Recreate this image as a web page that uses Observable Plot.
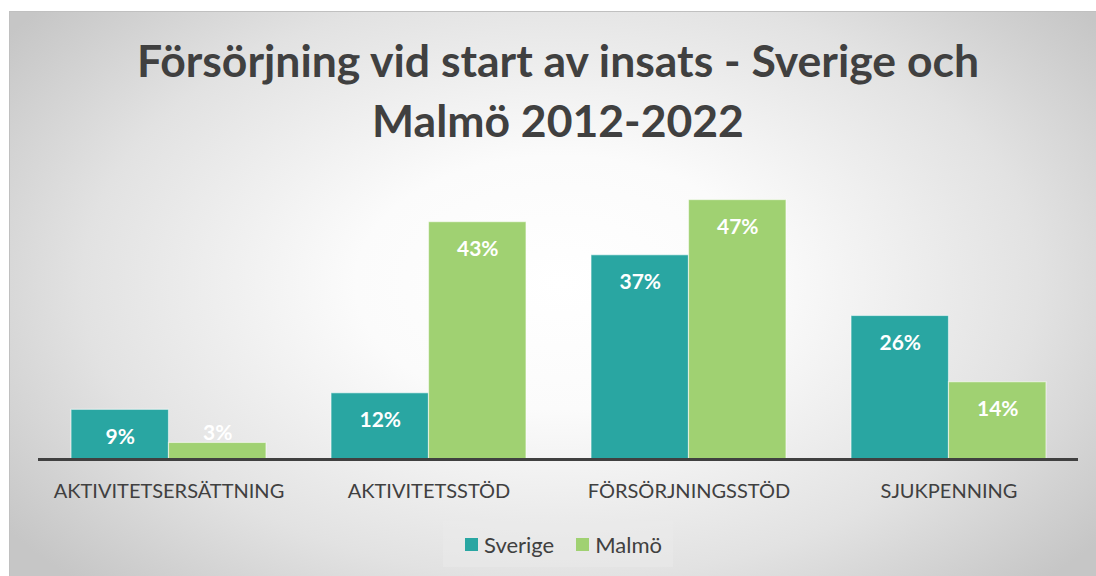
<!DOCTYPE html>
<html>
<head>
<meta charset="utf-8">
<script src="https://cdn.jsdelivr.net/npm/d3@7"></script>
<script src="https://cdn.jsdelivr.net/npm/@observablehq/plot@0.6"></script>
<style>
  html, body { margin: 0; padding: 0; background: #ffffff; }
  #wrap { position: relative; width: 1096px; height: 576px; overflow: hidden; font-family: Lato, "Open Sans", sans-serif; }
  #bg { position: absolute; left: 9px; top: 11px; width: 1100px; height: 564px;
        border: 1px solid #c0c0c0;
        background: radial-gradient(ellipse 62% 75% at 50% 48%, #ffffff 0%, #fbfbfb 30%, #e2e2e2 70%, #c6c6c6 100%); }
  #title { position: absolute; left: 20px; width: 1076px; top: 30px; text-align: center;
           font-weight: 700; font-size: 44.5px; line-height: 60px; color: #404040; }
  #chart { position: absolute; left: 0; top: 0; }
  #legend { position: absolute; left: 443px; top: 521px; width: 230px; height: 46px;
            background: rgba(235,235,235,0.45); display: flex; align-items: center;
            font-size: 22px; color: #404040; }
  .sw { display: inline-block; width: 13px; height: 13px; margin-right: 6px; }
</style>
</head>
<body>
<div id="wrap">
  <div id="bg"></div>
  <div id="title">Försörjning vid start av insats - Sverige och<br>Malmö 2012-2022</div>
  <div id="chart"></div>
  <div id="legend"></div>
</div>
<script>
const categories = ["AKTIVITETSERSÄTTNING", "AKTIVITETSSTÖD", "FÖRSÖRJNINGSSTÖD", "SJUKPENNING"];
const series = ["Sverige", "Malmö"];
const colors = ["#29a6a2", "#a0d172"];
const sverige = [9, 12, 37, 26];
const malmo = [3, 43, 47, 14];

const rowsS = categories.map((c, i) => ({cat: c, series: "Sverige", value: sverige[i]}));
const rowsM = categories.map((c, i) => ({cat: c, series: "Malmö", value: malmo[i]}));
const half = 97.5;

const chart = Plot.plot({
  width: 1096,
  height: 576,
  marginTop: 183,
  marginBottom: 117,
  marginLeft: 38,
  marginRight: 18,
  style: {background: "transparent", fontFamily: "Lato, 'Open Sans', sans-serif", overflow: "visible"},
  x: {domain: categories, paddingInner: 0.25, paddingOuter: 0.125, label: null},
  y: {domain: [0, 50], axis: null},
  color: {domain: series, range: colors},
  marks: [
    Plot.barY(rowsS, {x: "cat", y: "value", fill: "series", insetRight: half, stroke: "#ffffff", strokeOpacity: 0.55, strokeWidth: 1.2}),
    Plot.barY(rowsM, {x: "cat", y: "value", fill: "series", insetLeft: half, stroke: "#ffffff", strokeOpacity: 0.55, strokeWidth: 1.2}),
    Plot.ruleY([0], {stroke: "#404040", strokeWidth: 3}),
    Plot.axisX({tickSize: 0, tickPadding: 24, fontSize: 20, fill: "#404040", label: null}),
    Plot.text(rowsS.filter(d => d.value >= 5), {x: "cat", y: "value", text: d => d.value + "%", dx: -half / 2, dy: 27, fill: "white", fontWeight: "bold", fontSize: 21}),
    Plot.text(rowsM.filter(d => d.value >= 5), {x: "cat", y: "value", text: d => d.value + "%", dx: half / 2, dy: 27, fill: "white", fontWeight: "bold", fontSize: 21}),
    Plot.text(rowsS.filter(d => d.value < 5), {x: "cat", y: "value", text: d => d.value + "%", dx: -half / 2, dy: -10, fill: "white", fontWeight: "bold", fontSize: 21}),
    Plot.text(rowsM.filter(d => d.value < 5), {x: "cat", y: "value", text: d => d.value + "%", dx: half / 2, dy: -10, fill: "white", fontWeight: "bold", fontSize: 21})
  ]
});
document.getElementById("chart").appendChild(chart);

const legend = document.getElementById("legend");
series.forEach((s, i) => {
  const item = document.createElement("span");
  item.style.display = "inline-flex";
  item.style.alignItems = "center";
  item.style.marginLeft = "22px";
  const sw = document.createElement("span");
  sw.className = "sw";
  sw.style.background = colors[i];
  item.appendChild(sw);
  item.appendChild(document.createTextNode(s));
  legend.appendChild(item);
});
</script>
</body>
</html>
